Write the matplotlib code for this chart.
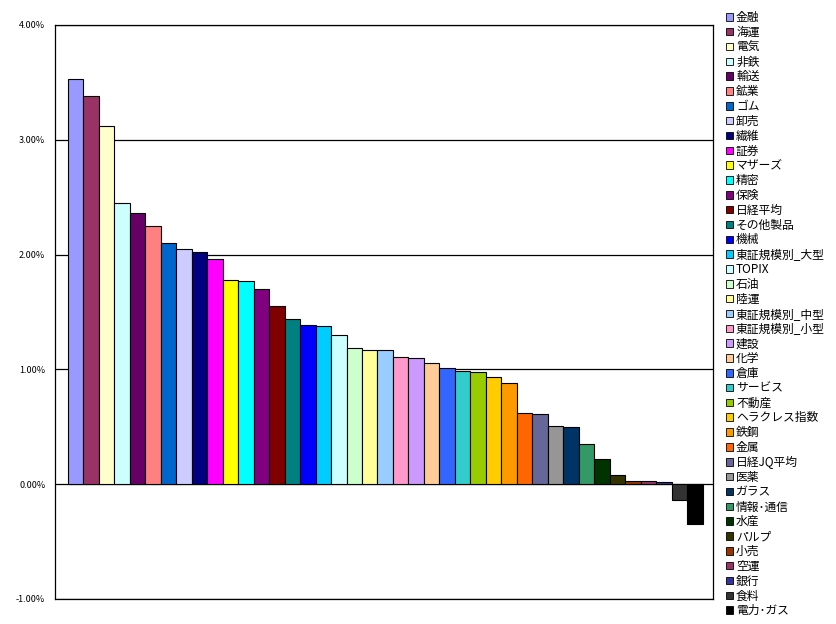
import matplotlib
matplotlib.use("Agg")
import matplotlib.pyplot as plt
from matplotlib.patches import Patch
from matplotlib.ticker import FuncFormatter

plt.rcParams['font.family'] = ['Noto Sans CJK JP', 'DejaVu Sans']

categories = ["金融", "海運", "電気", "非鉄", "輸送", "鉱業", "ゴム", "卸売", "繊維", "証券",
              "マザーズ", "精密", "保険", "日経平均", "その他製品", "機械", "東証規模別_大型", "TOPIX",
              "石油", "陸運", "東証規模別_中型", "東証規模別_小型", "建設", "化学", "倉庫", "サービス",
              "不動産", "ヘラクレス指数", "鉄鋼", "金属", "日経JQ平均", "医薬", "ガラス", "情報･通信",
              "水産", "パルプ", "小売", "空運", "銀行", "食料", "電力･ガス"]

values = [3.53, 3.38, 3.12, 2.45, 2.36, 2.25, 2.10, 2.05, 2.02, 1.96,
          1.78, 1.77, 1.70, 1.55, 1.44, 1.39, 1.38, 1.30, 1.19, 1.17,
          1.17, 1.11, 1.10, 1.06, 1.01, 0.99, 0.98, 0.93, 0.88, 0.62,
          0.61, 0.51, 0.50, 0.35, 0.22, 0.08, 0.03, 0.024, 0.015, -0.14, -0.35]

colors = ["#9999FF", "#993366", "#FFFFCC", "#CCFFFF", "#660066", "#FF8080", "#0066CC", "#CCCCFF",
          "#000080", "#FF00FF", "#FFFF00", "#00FFFF", "#800080", "#800000", "#008080", "#0000FF",
          "#00CCFF", "#CCFFFF", "#CCFFCC", "#FFFF99", "#99CCFF", "#FF99CC", "#CC99FF", "#FFCC99",
          "#3366FF", "#33CCCC", "#99CC00", "#FFCC00", "#FF9900", "#FF6600", "#666699", "#969696",
          "#003366", "#339966", "#003300", "#333300", "#993300", "#993366", "#333399", "#333333",
          "#000000"]

yticks = [-1, 0, 1, 2, 3, 4]

fig = plt.figure(figsize=(8.36, 6.24), dpi=100)
ax = fig.add_axes([55 / 836, 1 - 599 / 624, 658 / 836, 574 / 624])

x = list(range(len(values)))
ax.bar(x, values, width=1.0, color=colors, edgecolor="black", linewidth=0.8, zorder=3)

for t in yticks:
    ax.axhline(t, color="black", linewidth=0.9, zorder=2)

ax.set_ylim(-1, 4)
ax.set_xlim(-1.32, 41.16)
ax.set_xticks([])
ax.set_yticks(yticks)
ax.yaxis.set_major_formatter(FuncFormatter(lambda v, p: f"{v:.2f}%"))
ax.tick_params(axis="y", length=0, pad=7, labelsize=6.5)
for s in ax.spines.values():
    s.set_linewidth(0.9)
    s.set_color("black")

handles = [Patch(facecolor=c, edgecolor="black", linewidth=0.6) for c in colors]
fig.legend(handles, categories, loc="upper left", bbox_to_anchor=(726 / 836, 1 - 11 / 624),
           frameon=False, fontsize=8.5, handlelength=0.6, handleheight=0.6,
           handletextpad=0.25, labelspacing=0.155, borderaxespad=0, borderpad=0)

fig.savefig("out.png", dpi=100)
